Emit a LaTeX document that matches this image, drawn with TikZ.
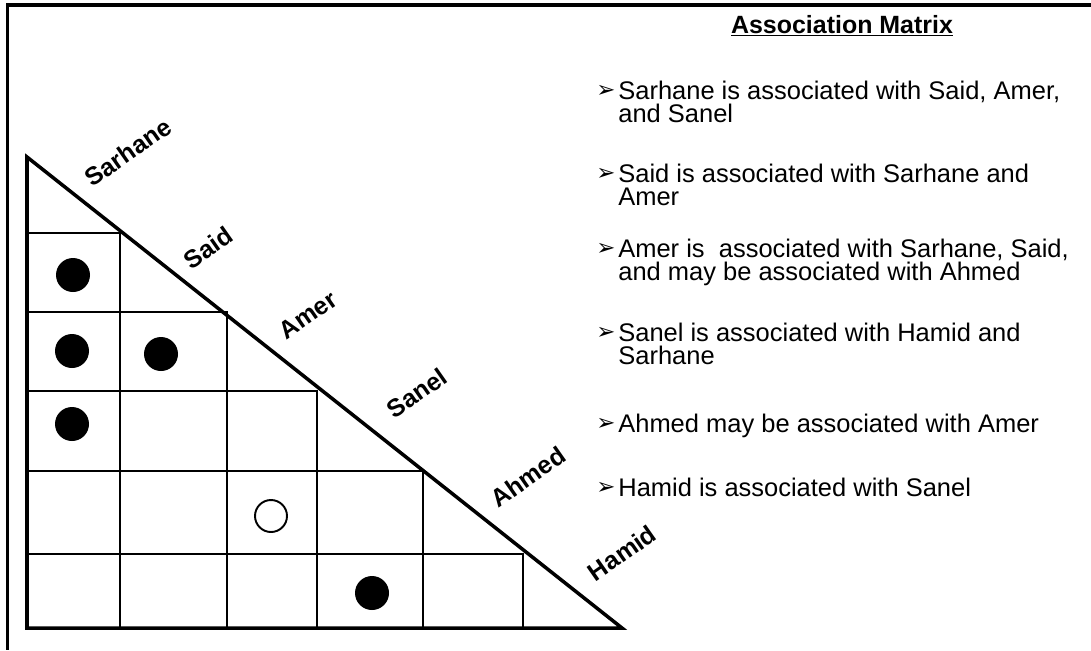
\documentclass[tikz,border=0pt]{standalone}
\usepackage{fontspec}
\setmainfont{Liberation Sans}
\newfontfamily\dingfont{DejaVu Sans}

\begin{document}
\begin{tikzpicture}[scale=0.2]
\tikzstyle{every node}+=[inner sep=0pt]
\tikzstyle{person}=[font=\fontsize{14.2}{16}\selectfont\bfseries, rotate=35]
\tikzstyle{entry}=[anchor=north west, align=left, font=\fontsize{14.5}{13.1}\selectfont]
\tikzstyle{tip}=[font=\dingfont\fontsize{13}{13}\selectfont]
\tikzstyle{linked}=[circle, fill=black, minimum size=0.68cm]
\tikzstyle{maybe}=[circle, draw=black, line width=1.1pt, minimum size=0.64cm]
\useasboundingbox (0,0) rectangle (109.1,-65);
% frame
\draw [black, line width=2pt] (109.1,-0.5) -- (0.75,-0.5) -- (0.75,-65);
% triangle and grid
\draw [black, line width=2pt] (2.7,-15.7) -- (2.7,-62.8) -- (62.2,-62.8) -- cycle;
\foreach \x/\y in {12/23.3, 22.7/31.2, 31.7/39.1, 42.3/47.1, 52.3/55.4}
  \draw [black, line width=1.3pt] (2.7,-\y) -- (\x,-\y) -- (\x,-62.8);
% names
\node [person] (sarhane) at (12.8,-15.2) {Sarhane};
\node [person] (said) at (20.8,-24.8) {Said};
\node [person] (amer) at (30.8,-31.5) {Amer};
\node [person] (sanel) at (41.7,-39.3) {Sanel};
\node [person] (ahmed) at (52.8,-47.7) {Ahmed};
\node [person] (hamid) at (62.2,-55.3) {Hamid};
% links
\node [linked] (said-sarhane) at (7.3,-27.5) {};
\node [linked] (amer-sarhane) at (7.2,-35.1) {};
\node [linked] (amer-said) at (16.1,-35.4) {};
\node [linked] (sanel-sarhane) at (7.2,-42.4) {};
\node [maybe] (ahmed-amer) at (27.1,-51.6) {};
\node [linked] (hamid-sanel) at (37.2,-59.3) {};
% legend
\node [anchor=base, font=\fontsize{14.2}{16}\selectfont\bfseries] (title) at (84.2,-3.3) {\underline{Association Matrix}};
\node [tip] (tip1) at (60.6,-9.1) {➢};
\node [tip] (tip2) at (60.6,-17.4) {➢};
\node [tip] (tip3) at (60.6,-24.9) {➢};
\node [tip] (tip4) at (60.6,-33.3) {➢};
\node [tip] (tip5) at (60.6,-42.4) {➢};
\node [tip] (tip6) at (60.6,-48.8) {➢};
\node [entry] (entry1) at (61.8,-8.05) {Sarhane is associated with Said, Amer,\\and Sanel};
\node [entry] (entry2) at (61.8,-16.35) {Said is associated with Sarhane and\\Amer};
\node [entry] (entry3) at (61.8,-23.85) {Amer is\ \ associated with Sarhane, Said,\\and may be associated with Ahmed};
\node [entry] (entry4) at (61.8,-32.25) {Sanel is associated with Hamid and\\Sarhane};
\node [entry] (entry5) at (61.8,-41.35) {Ahmed may be associated with Amer};
\node [entry] (entry6) at (61.8,-47.75) {Hamid is associated with Sanel};
\end{tikzpicture}
\end{document}
